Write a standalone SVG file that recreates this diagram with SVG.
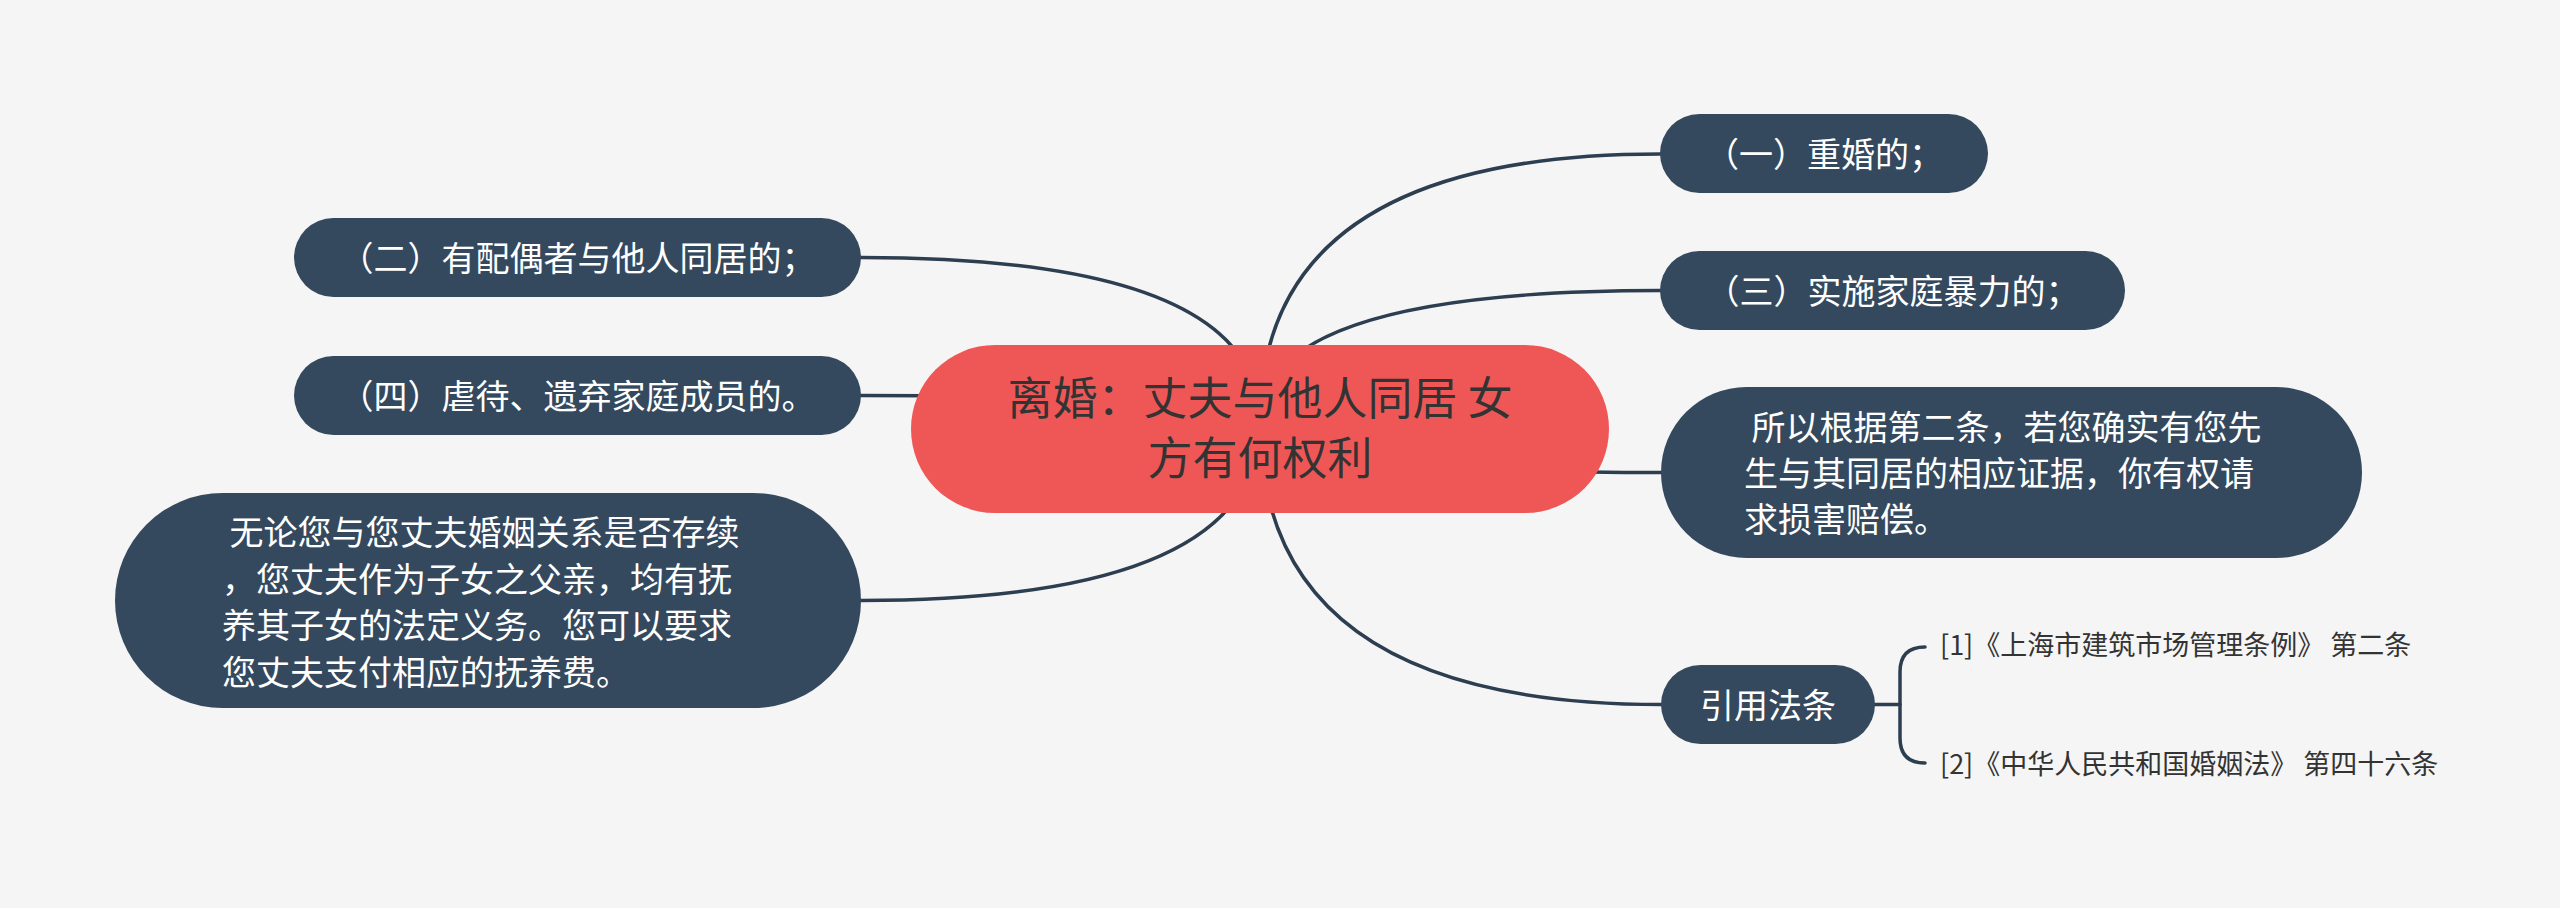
<svg xmlns="http://www.w3.org/2000/svg" width="2560" height="908" viewBox="0 0 2560 908">
<style>
.bg{fill:#f5f5f5}
.link{fill:none;stroke:#2c3e50;stroke-width:3.5;stroke-linecap:round}
.node{fill:#34495e}
.root{fill:#ef5757}
.t{font-family:"Noto Sans CJK SC","Noto Sans",sans-serif;font-size:34px;fill:#ffffff}
.rt{font-family:"Noto Sans CJK SC","Noto Sans",sans-serif;font-size:45px;fill:#333333;text-anchor:middle}
.ct{font-family:"Noto Sans CJK SC","Noto Sans",sans-serif;font-size:27px;fill:#333333}
.mid{text-anchor:middle}
</style>
<rect class="bg" x="0" y="0" width="2560" height="908"/>
<g id="connectors">
<path class="link" d="M1260,422 Q1260,154 1660,154"/>
<path class="link" d="M1260,422 Q1260,290.5 1660,290.5"/>
<path class="link" d="M1260,422 Q1260,472.5 1661,472.5"/>
<path class="link" d="M1260,422 Q1260,704.5 1661,704.5"/>
<path class="link" d="M1260,422 Q1260,257.5 861,257.5"/>
<path class="link" d="M1260,422 Q1260,395.5 861,395.5"/>
<path class="link" d="M1260,422 Q1260,600.5 861,600.5"/>
<path class="link" d="M1875,704.5 L1900,704.5"/>
<path class="link" d="M1925,647 Q1900,647 1900,672 L1900,738 Q1900,763 1925,763"/>
</g>
<g id="root">
<rect class="root" x="911" y="345" width="698" height="168" rx="84" ry="84"/>
<text class="rt" x="1260" y="415">离婚：丈夫与他人同居 女</text>
<text class="rt" x="1260" y="475">方有何权利</text>
</g>
<g id="n1">
<rect class="node" x="1660" y="114" width="328" height="79" rx="39.5" ry="39.5"/>
<text class="t mid" x="1824" y="167">（一）重婚的；</text>
</g>
<g id="n3">
<rect class="node" x="1660" y="251" width="465" height="79" rx="39.5" ry="39.5"/>
<text class="t mid" x="1892.5" y="304">（三）实施家庭暴力的；</text>
</g>
<g id="n5">
<rect class="node" x="1661" y="387" width="701" height="171" rx="85.5" ry="85.5"/>
<text class="t" x="1744" y="440" xml:space="preserve"> 所以根据第二条，若您确实有您先</text>
<text class="t" x="1744" y="486">生与其同居的相应证据，你有权请</text>
<text class="t" x="1744" y="532">求损害赔偿。</text>
</g>
<g id="n7">
<rect class="node" x="1661" y="665" width="214" height="79" rx="39.5" ry="39.5"/>
<text class="t mid" x="1768" y="718">引用法条</text>
</g>
<g id="c1">
<text class="ct" x="1940" y="655">[1]《上海市建筑市场管理条例》 第二条</text>
</g>
<g id="c2">
<text class="ct" x="1940" y="774">[2]《中华人民共和国婚姻法》 第四十六条</text>
</g>
<g id="n2">
<rect class="node" x="294" y="218" width="567" height="79" rx="39.5" ry="39.5"/>
<text class="t mid" x="577.5" y="271">（二）有配偶者与他人同居的；</text>
</g>
<g id="n4">
<rect class="node" x="294" y="356" width="567" height="79" rx="39.5" ry="39.5"/>
<text class="t mid" x="577.5" y="409">（四）虐待、遗弃家庭成员的。</text>
</g>
<g id="n6">
<rect class="node" x="115" y="493" width="746" height="215" rx="107.5" ry="107.5"/>
<text class="t" x="222" y="545" xml:space="preserve"> 无论您与您丈夫婚姻关系是否存续</text>
<text class="t" x="222" y="591.5">，您丈夫作为子女之父亲，均有抚</text>
<text class="t" x="222" y="638">养其子女的法定义务。您可以要求</text>
<text class="t" x="222" y="684.5">您丈夫支付相应的抚养费。</text>
</g>
</svg>
